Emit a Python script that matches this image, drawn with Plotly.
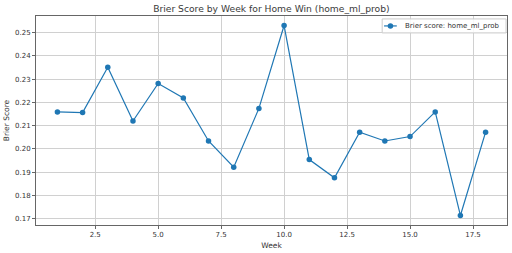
import plotly.graph_objects as go

weeks = list(range(1, 19))
brier = [0.2159, 0.2156, 0.2351, 0.2120, 0.2281, 0.2219, 0.2034, 0.1921, 0.2174,
         0.2530, 0.1954, 0.1876, 0.2072, 0.2034, 0.2053, 0.2159, 0.1714, 0.2072]
series_name = "Brier score: home_ml_prob"
title = "Brier Score by Week for Home Win (home_ml_prob)"
color = "#1f77b4"

fig = go.Figure()
fig.add_trace(go.Scatter(
    x=weeks, y=brier, mode="lines+markers", name=series_name,
    line=dict(color=color, width=1.2),
    marker=dict(color=color, size=5.5),
    showlegend=False,
))

axis_common = dict(
    showline=True, linecolor="#666666", linewidth=1, mirror=True,
    showgrid=True, gridcolor="#d0d0d0", gridwidth=1,
    ticks="outside", ticklen=3, tickcolor="#666666",
    tickfont=dict(size=7, color="#333333"), zeroline=False,
)

# legend box drawn in paper coordinates (matplotlib-style compact legend)
lx0, lx1, ly0, ly1 = 0.735, 0.998, 0.919, 0.986
ly = (ly0 + ly1) / 2
fig.add_shape(type="rect", xref="paper", yref="paper", x0=lx0, x1=lx1, y0=ly0, y1=ly1,
              line=dict(color="#cccccc", width=1), fillcolor="rgba(255,255,255,0.85)", layer="above")
fig.add_shape(type="line", xref="paper", yref="paper", x0=0.739, x1=0.766, y0=ly, y1=ly,
              line=dict(color=color, width=1.2), layer="above")
fig.add_shape(type="circle", xref="paper", yref="paper", xsizemode="pixel", ysizemode="pixel",
              xanchor=0.7525, yanchor=ly, x0=-2.75, x1=2.75, y0=-2.75, y1=2.75,
              fillcolor=color, line=dict(color=color, width=0), layer="above")
fig.add_annotation(xref="paper", yref="paper", x=0.779, y=ly, xanchor="left", yanchor="middle",
                   text=series_name, showarrow=False, font=dict(size=7, color="#333333"))

fig.update_layout(
    width=512, height=253,
    margin=dict(l=36, r=5, t=16, b=28),
    paper_bgcolor="white", plot_bgcolor="white",
    font=dict(family="DejaVu Sans", color="#333333"),
    title=dict(text=title, x=0.53, xanchor="center", y=0.965, yanchor="middle",
               font=dict(size=9.2, color="#3a3a3a")),
    xaxis=dict(range=[0.15, 18.85], tickvals=[2.5, 5.0, 7.5, 10.0, 12.5, 15.0, 17.5],
               ticktext=["2.5", "5.0", "7.5", "10.0", "12.5", "15.0", "17.5"],
               title=dict(text="Week", font=dict(size=7.5), standoff=4), **axis_common),
    yaxis=dict(range=[0.1673, 0.2571], tickvals=[0.17, 0.18, 0.19, 0.20, 0.21, 0.22, 0.23, 0.24, 0.25],
               ticktext=["0.17", "0.18", "0.19", "0.20", "0.21", "0.22", "0.23", "0.24", "0.25"],
               title=dict(text="Brier Score", font=dict(size=7.5), standoff=4), **axis_common),
)

fig.write_html("out.html")
